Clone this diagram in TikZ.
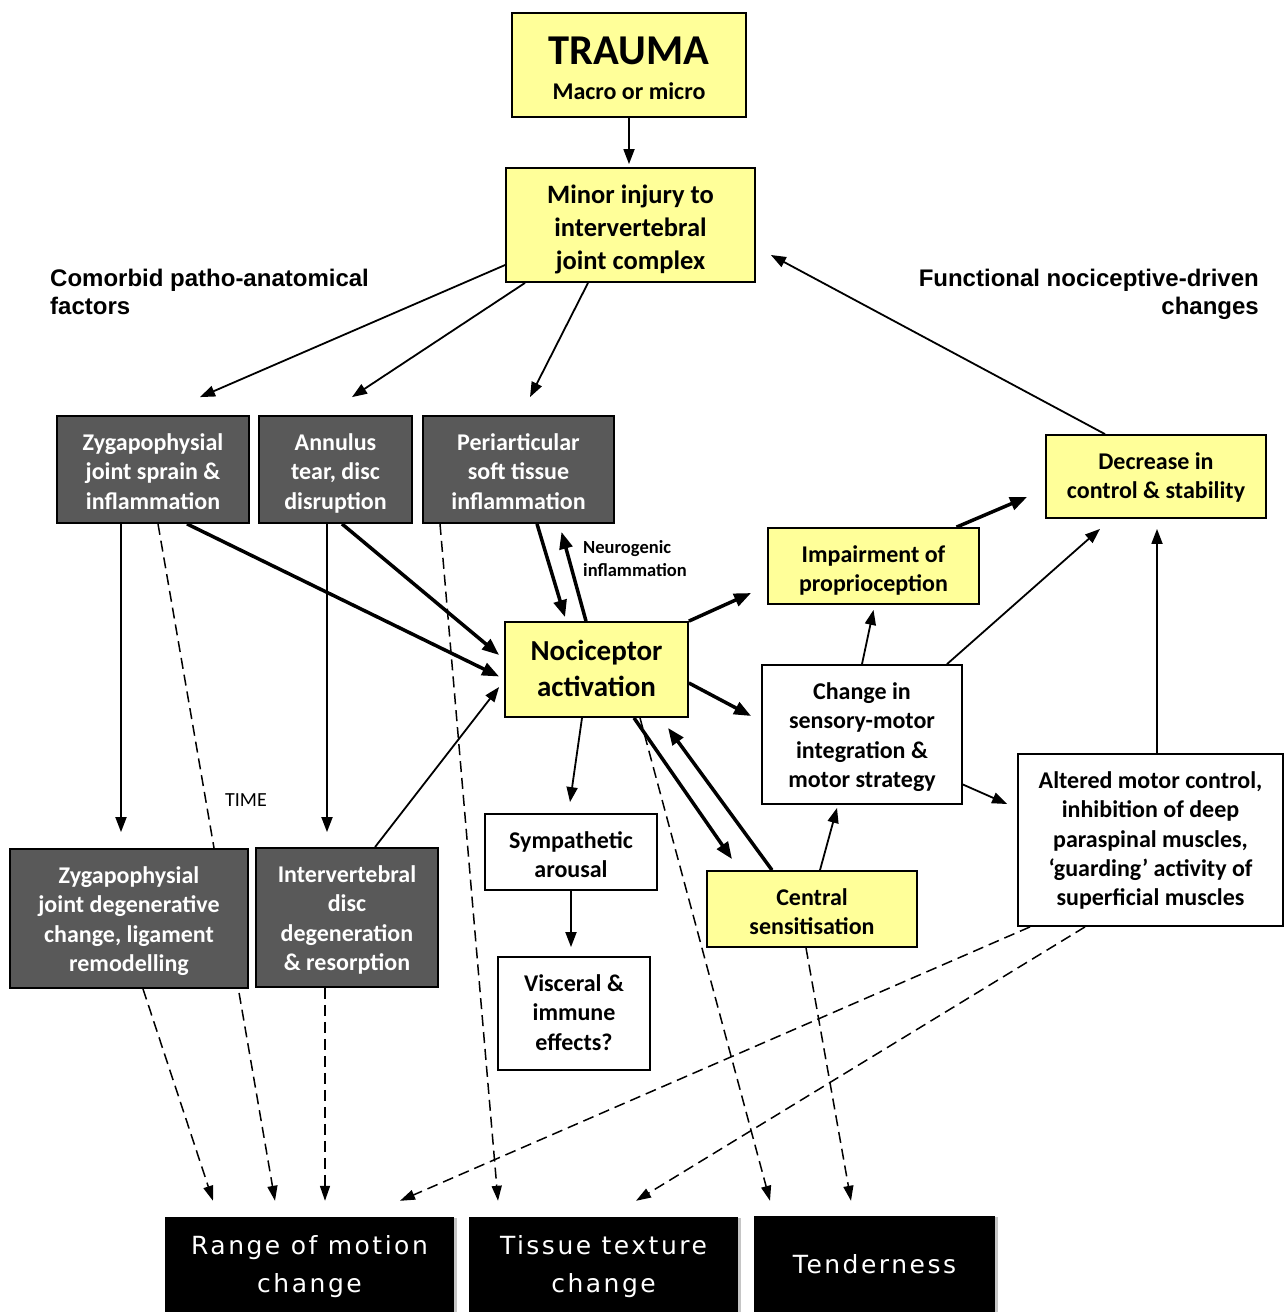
\documentclass[tikz,border=0pt]{standalone}
\usepackage{fontspec}
\setmainfont{Carlito}
\newfontfamily\bottomfont[LetterSpace=10]{DejaVu Sans}
\newfontfamily\headfont{Liberation Sans}
\usetikzlibrary{arrows.meta,shadows}
\pgfdeclarelayer{bg}
\pgfsetlayers{bg,main}
\definecolor{ylw}{RGB}{255,255,153}
\definecolor{dgray}{RGB}{89,89,89}
\newcommand\firsth[1]{\rule{0pt}{#1pt}}
\newcommand\lastd[1]{\rule[-#1pt]{0pt}{0pt}}
\begin{document}
\begin{tikzpicture}[x=1pt,y=-1pt,
 box/.style={draw=black, line width=1.8pt, align=center, inner sep=0pt, font=\fontsize{24}{29.3}\selectfont\bfseries},
 ybox/.style={box, fill=ylw},
 gbox/.style={box, fill=dgray, text=white},
 wbox/.style={box, fill=white},
 kbox/.style={fill=black, text=white, align=center, inner sep=0pt, font=\bottomfont\fontsize{25}{38}\selectfont,
   drop shadow={shadow xshift=3pt, shadow yshift=-1pt, opacity=0.45}},
 arr/.style={-{Triangle[length=15pt,width=11pt]}, line width=1.8pt},
 tarr/.style={-{Triangle[length=17pt,width=13pt]}, line width=3.5pt},
 darr/.style={dash pattern=on 11pt off 6pt, line width=1.5pt, -{Triangle[length=15pt,width=10pt]}},
 lbl/.style={inner sep=0pt, font=\headfont\fontsize{24}{28}\selectfont\bfseries}
]
\useasboundingbox (0,0) rectangle (1283,1312);

% nodes
\node[ybox, minimum width=234pt, minimum height=104pt, font=\fontsize{24}{34.5}\selectfont\bfseries] (trauma) at (629,65) {\firsth{40}{\fontsize{42.5}{36}\selectfont TRAUMA}\\Macro or micro\lastd{6.5}};
\node[ybox, minimum width=249pt, minimum height=114pt, font=\fontsize{26.5}{33}\selectfont\bfseries] (minor) at (630.5,225) {\firsth{32}Minor injury to\\intervertebral\\joint complex\lastd{8.6}};
\node[gbox, minimum width=192pt, minimum height=107pt] (zs) at (153,469.5) {\firsth{29}Zygapophysial\\joint sprain \&\\inflammation\lastd{8.4}};
\node[gbox, minimum width=153pt, minimum height=107pt] (ann) at (335.5,469.5) {\firsth{29}Annulus\\tear, disc\\disruption\lastd{8.4}};
\node[gbox, minimum width=191pt, minimum height=107pt] (peri) at (518.5,469.5) {\firsth{29}Periarticular\\soft tissue\\inflammation\lastd{8.4}};
\node[ybox, minimum width=220pt, minimum height=83pt] (dec) at (1156,476.5) {\firsth{29}Decrease in\\control \& stability\lastd{13.7}};
\node[ybox, minimum width=211pt, minimum height=76pt] (imp) at (873.5,566) {\firsth{29}Impairment of\\proprioception\lastd{6.7}};
\node[ybox, minimum width=183pt, minimum height=95pt, font=\fontsize{29}{36}\selectfont\bfseries] (noci) at (596.5,669.5) {\firsth{32}Nociceptor\\activation\lastd{13.8}};
\node[wbox, minimum width=200pt, minimum height=139pt] (chg) at (862,734.5) {\firsth{29}Change in\\sensory-motor\\integration \&\\motor strategy\lastd{11.1}};
\node[wbox, minimum width=265pt, minimum height=172pt] (alt) at (1150.5,840) {\firsth{29}Altered motor control,\\inhibition of deep\\paraspinal muscles,\\‘guarding’ activity of\\superficial muscles\lastd{14.8}};
\node[wbox, minimum width=172pt, minimum height=76pt] (sym) at (571,852) {\firsth{29}Sympathetic\\arousal\lastd{6.7}};
\node[ybox, minimum width=210pt, minimum height=76pt] (cen) at (812,909) {\firsth{29}Central\\sensitisation\lastd{6.7}};
\node[wbox, minimum width=152pt, minimum height=113pt] (vis) at (574,1013.5) {\firsth{29}Visceral \&\\immune\\effects?\lastd{14.4}};
\node[gbox, minimum width=238pt, minimum height=139pt] (zd) at (129,918.5) {\firsth{29}Zygapophysial\\joint degenerative\\change, ligament\\remodelling\lastd{11.1}};
\node[gbox, minimum width=182pt, minimum height=139pt] (ivd) at (347,917.5) {\firsth{29}Intervertebral\\disc\\degeneration\\\& resorption\lastd{11.1}};
\node[kbox, minimum width=289pt, minimum height=100pt] (rom) at (309.5,1267) {Range of motion\\change};
\node[kbox, minimum width=269pt, minimum height=100pt] (tex) at (603.5,1267) {Tissue texture\\change};
\node[kbox, minimum width=241pt, minimum height=96pt] (ten) at (874.5,1264) {Tenderness};

% labels
\node[lbl, anchor=north west, align=left] (comorb) at (50,266.4) {\firsth{20}Comorbid patho-anatomical\\factors};
\node[lbl, anchor=north east, align=right] (func) at (1259,266.4) {\firsth{20}Functional nociceptive-driven\\changes};
\node[inner sep=0pt, anchor=west, align=left, font=\fontsize{18.5}{23}\selectfont\bfseries] (neuro) at (583,559) {Neurogenic\\inflammation};
\node[inner sep=0pt, font=\fontsize{20}{24}\selectfont] (time) at (246,800) {TIME};

% solid connectors
\draw[arr] (trauma.south) -- ([shift={(-1.5,-3)}]minor.north);
\draw[arr] ([shift={(0,40)}]minor.west) -- ([shift={(47,-18)}]zs.north);
\draw[arr] ([shift={(-105.5,0)}]minor.south) -- ([shift={(16.5,-18)}]ann.north);
\draw[arr] ([shift={(-42.5,0)}]minor.south) -- ([shift={(11.5,-18)}]peri.north);
\draw[arr] ([shift={(-51,0)}]dec.north) -- ([shift={(15,30)}]minor.east);
\draw[arr] ([shift={(-32,0)}]zs.south) -- ([shift={(-8,-16)}]zd.north);
\draw[arr] ([shift={(-8.5,0)}]ann.south) -- ([shift={(-20,-15)}]ivd.north);
\draw[tarr] ([shift={(34,0)}]zs.south) -- ([shift={(-5,7)}]noci.west);
\draw[tarr] ([shift={(6.5,0)}]ann.south) -- ([shift={(-5,-14.5)}]noci.west);
\draw[arr] ([shift={(28,0)}]ivd.north) -- ([shift={(-5,17.5)}]noci.west);
\draw[tarr] ([shift={(18.5,0)}]peri.south) -- ([shift={(-31.5,-4)}]noci.north);
\draw[tarr] ([shift={(-10.5,0)}]noci.north) -- ([shift={(43,8)}]peri.south);
\draw[tarr] (noci.north east) -- ([shift={(-16,27)}]imp.west);
\draw[tarr] ([shift={(0,13.5)}]noci.east) -- ([shift={(-10,-18.5)}]chg.west);
\draw[arr] ([shift={(-14.5,0)}]noci.south) -- ([shift={(-1,-11)}]sym.north);
\draw[tarr] ([shift={(37.5,0)}]noci.south) -- ([shift={(-80,-11)}]cen.north);
\draw[tarr] ([shift={(-40,0)}]cen.north) -- ([shift={(71.5,10)}]noci.south);
\draw[arr] ([shift={(8,0)}]cen.north) -- ([shift={(-25,3)}]chg.south);
\draw[arr] (chg.north) -- ([shift={(0,5)}]imp.south);
\draw[arr] ([shift={(85,0)}]chg.north) -- ([shift={(-56,10)}]dec.south);
\draw[arr] ([shift={(0,50)}]chg.east) -- ([shift={(-10,-36)}]alt.west);
\draw[tarr] ([shift={(83,0)}]imp.north) -- ([shift={(-18,20.5)}]dec.west);
\draw[arr] ([shift={(6.5,0)}]alt.north) -- ([shift={(1,10)}]dec.south);
\draw[arr] (sym.south) -- ([shift={(-3,-9)}]vis.north);

% dashed connectors (behind boxes)
\begin{pgfonlayer}{bg}
\fill[white] (0,0) rectangle (1283,1312);
\draw[darr] ([shift={(5,0)}]zs.south) -- ([shift={(-34.5,-16)}]rom.north);
\draw[darr] ([shift={(14,0)}]zd.south) -- ([shift={(-96.5,-16)}]rom.north);
\draw[darr] ([shift={(-22,0)}]ivd.south) -- ([shift={(15.5,-16)}]rom.north);
\draw[darr] ([shift={(-78.5,0)}]peri.south) -- ([shift={(-105.5,-16)}]tex.north);
\draw[darr] ([shift={(43.5,0)}]noci.south) -- ([shift={(-104.5,-15)}]ten.north);
\draw[darr] ([shift={(-6,0)}]cen.south) -- ([shift={(-23.5,-15)}]ten.north);
\draw[darr] ([shift={(-120.5,0)}]alt.south) -- ([shift={(90.5,-16)}]rom.north);
\draw[darr] ([shift={(-65.5,0)}]alt.south) -- ([shift={(32.5,-16)}]tex.north);
\end{pgfonlayer}
\end{tikzpicture}
\end{document}
